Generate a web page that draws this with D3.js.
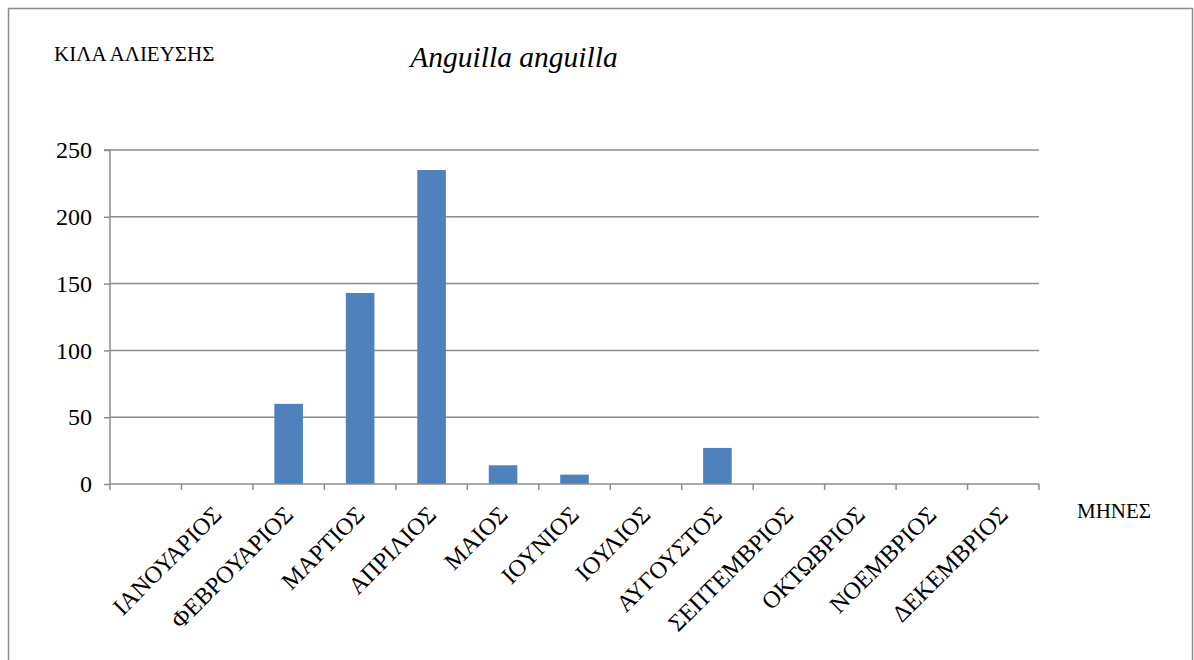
<!DOCTYPE html>
<html><head><meta charset="utf-8">
<script src="https://cdn.jsdelivr.net/npm/d3@7"></script>
<style>body{margin:0;background:#fff}svg{display:block}</style>
</head><body>
<svg id="c" width="1194" height="660"></svg>
<script>
const categories = ["", "ΙΑΝΟΥΑΡΙΟΣ", "ΦΕΒΡΟΥΑΡΙΟΣ", "ΜΑΡΤΙΟΣ", "ΑΠΡΙΛΙΟΣ", "ΜΑΙΟΣ", "ΙΟΥΝΙΟΣ", "ΙΟΥΛΙΟΣ", "ΑΥΓΟΥΣΤΟΣ", "ΣΕΠΤΕΜΒΡΙΟΣ", "ΟΚΤΩΒΡΙΟΣ", "ΝΟΕΜΒΡΙΟΣ", "ΔΕΚΕΜΒΡΙΟΣ"];
const values = [null, 0, 60, 143, 235, 14, 7, 0, 27, 0, 0, 0, 0];
const yTicks = [0, 50, 100, 150, 200, 250];
const title = "Anguilla anguilla";
const yTitle = "ΚΙΛΑ ΑΛΙΕΥΣΗΣ";
const xTitle = "ΜΗΝΕΣ";

const svg = d3.select("#c");
const font = "Liberation Serif, DejaVu Serif, serif";
const pL = 110, pR = 1039, pT = 150, pB = 484;

svg.append("rect").attr("x", 8.5).attr("y", 8.5).attr("width", 1184).attr("height", 660)
  .attr("fill", "none").attr("stroke", "#8c8c8c").attr("stroke-width", 1.5);

const x = d3.scaleBand().domain(categories.map((d, i) => i)).range([pL, pR]).paddingInner(0).paddingOuter(0);
const y = d3.scaleLinear().domain([0, 250]).range([pB, pT]);

// gridlines
svg.append("g").selectAll("line").data(yTicks.filter(d => d > 0)).join("line")
  .attr("x1", pL).attr("x2", pR).attr("y1", d => y(d)).attr("y2", d => y(d))
  .attr("stroke", "#8c8c8c").attr("stroke-width", 1.5);

// y axis
const yAxis = svg.append("g").attr("transform", `translate(${pL},0)`)
  .call(d3.axisLeft(y).tickValues(yTicks).tickSize(6).tickPadding(12));
yAxis.select(".domain").attr("stroke", "#8c8c8c").attr("stroke-width", 1.5).attr("d", `M-6,${pT}H0V${pB}`);
yAxis.selectAll(".tick line").attr("stroke", "#8c8c8c").attr("stroke-width", 1.5);
yAxis.selectAll(".tick text").attr("font-family", font).attr("font-size", 24).attr("fill", "#000");

// bars
const bw = x.bandwidth() / 2.5;
svg.append("g").selectAll("rect").data(values.map((v, i) => ({v, i})).filter(d => d.v)).join("rect")
  .attr("x", d => x(d.i) + x.bandwidth() / 2 - bw / 2)
  .attr("width", bw)
  .attr("y", d => y(d.v))
  .attr("height", d => y(0) - y(d.v))
  .attr("fill", "#4f81bd");

// x axis
const xb = svg.append("g");
xb.append("line").attr("x1", pL).attr("x2", pR).attr("y1", pB).attr("y2", pB)
  .attr("stroke", "#8c8c8c").attr("stroke-width", 1.5);
const tickPos = categories.map((d, i) => x(i)).concat([pR]);
xb.selectAll("line.t").data(tickPos).join("line").attr("class", "t")
  .attr("x1", d => d).attr("x2", d => d).attr("y1", pB).attr("y2", pB + 6)
  .attr("stroke", "#8c8c8c").attr("stroke-width", 1.5);
xb.selectAll("text").data(categories.map((c, i) => ({c, i}))).join("text")
  .attr("transform", d => `translate(${x(d.i) + x.bandwidth() / 2 + 6},${pB + 32}) rotate(-45)`)
  .attr("text-anchor", "end")
  .attr("font-family", font).attr("font-size", 24).attr("fill", "#000")
  .text(d => d.c);

// titles
svg.append("text").attr("x", 514).attr("y", 67).attr("text-anchor", "middle")
  .attr("font-family", font).attr("font-style", "italic").attr("font-size", 29.5).attr("fill", "#000").text(title);
svg.append("text").attr("x", 54).attr("y", 61)
  .attr("font-family", font).attr("font-size", 21).attr("fill", "#000").text(yTitle);
svg.append("text").attr("x", 1077).attr("y", 518)
  .attr("font-family", font).attr("font-size", 21).attr("fill", "#000").text(xTitle);
</script>
</body></html>
